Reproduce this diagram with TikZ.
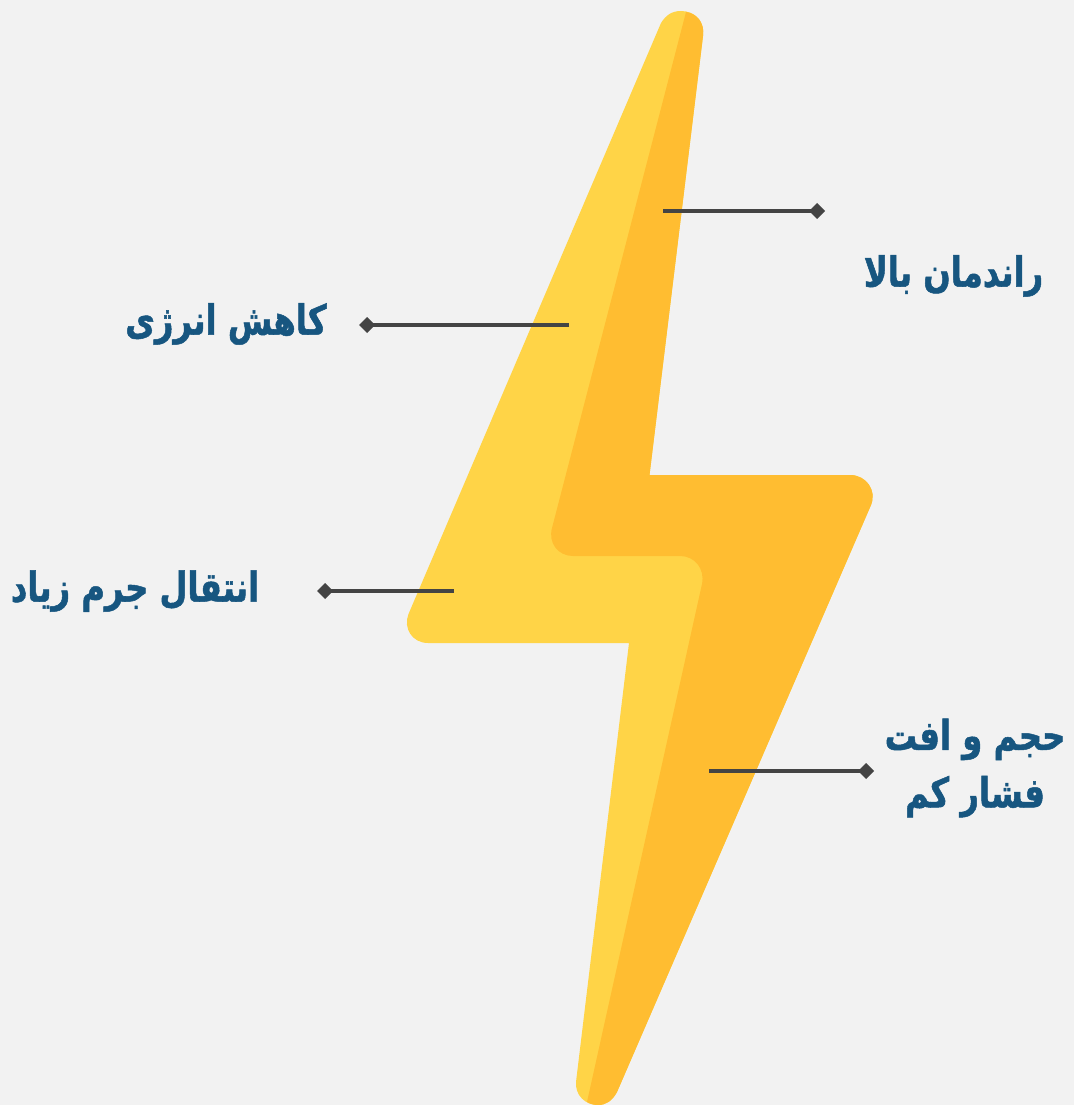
\documentclass[tikz,border=0pt]{standalone}
\usepackage{fontspec}
\usepackage{xcolor}
\usetikzlibrary{shapes.geometric, positioning, calc}
\TeXXeTstate=1
\newfontfamily\arabicfont[Script=Arabic, BoldFeatures={FakeStretch=0.78, FakeBold=1.2}]{DejaVu Sans}
\definecolor{pagegray}{RGB}{242,242,242}
\definecolor{boltlight}{RGB}{255,212,71}
\definecolor{boltdark}{RGB}{255,189,49}
\definecolor{labelblue}{RGB}{23,86,128}
\definecolor{leadgray}{RGB}{68,68,68}
\tikzset{
  label/.style={text=labelblue, font=\arabicfont\bfseries\fontsize{31}{43}\selectfont, align=center, inner sep=0pt},
  tip/.style={diamond, fill=leadgray, minimum size=12pt, inner sep=0pt, outer sep=0pt},
  lead/.style={draw=leadgray, line width=2.7pt},
}
\begin{document}
\begin{tikzpicture}[x=0.75pt, y=-0.75pt]
\fill[pagegray] (0,0) rectangle (1074,1105);
\useasboundingbox (0,0) rectangle (1074,1105);
% bolt
\fill[boltlight] (661,23) .. controls (666,15) and (672,11) .. (681,11) .. controls (695,11) and (705,22) .. (703,36) -- (649.5,475) -- (850,475) .. controls (866,475) and (877,490) .. (871,505) -- (617,1092) .. controls (612,1101) and (606,1105) .. (598,1105) .. controls (585,1105) and (575,1095) .. (576,1082) -- (629,643) -- (428,643) .. controls (412,643) and (403,628) .. (408.5,614) -- cycle;
\fill[boltdark] (686,12) .. controls (696,13) and (705,22) .. (703,36) -- (649.5,475) -- (850,475) .. controls (866,475) and (877,490) .. (871,505) -- (617,1092) .. controls (612,1101) and (606,1105) .. (598,1105) .. controls (594,1105) and (590,1104) .. (587,1102) -- (702,584) .. controls (705,569) and (695,556) .. (680,556) -- (573,556) .. controls (558,556) and (548,543) .. (552,528) -- cycle;
% labels
\node (eff) [label] at (953.5,276) {\beginR راندمان بالا\endR};
\node (energy) [label] at (226,324) {\beginR کاهش انرژی\endR};
\node (mass) [label] at (135,591) {\beginR انتقال جرم زیاد\endR};
\node (drop) [label] at (975,768) {\beginR حجم و افت\endR\\\beginR فشار کم\endR};
% leads
\coordinate (effin) at (663,211);
\coordinate (energyin) at (569,325);
\coordinate (massin) at (454,591);
\coordinate (dropin) at (709,771);
\node (efftip) [tip] at (817,211) {};
\node (energytip) [tip] at (367,325) {};
\node (masstip) [tip] at (325,591) {};
\node (droptip) [tip] at (866,771) {};
\draw[lead] (effin) -- (efftip.center);
\draw[lead] (energyin) -- (energytip.center);
\draw[lead] (massin) -- (masstip.center);
\draw[lead] (dropin) -- (droptip.center);
\end{tikzpicture}
\end{document}
